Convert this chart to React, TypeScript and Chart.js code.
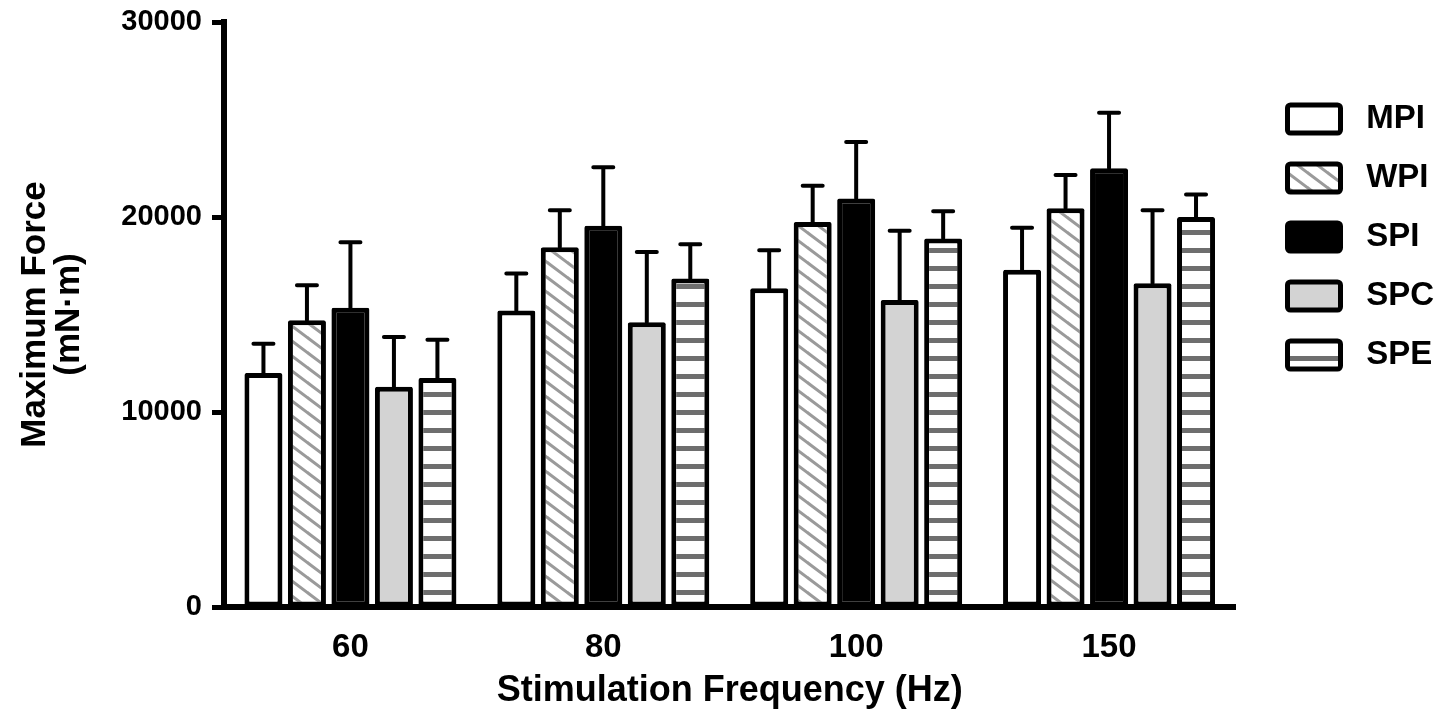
import React, { useEffect, useRef } from "react";
import { Chart, registerables } from "chart.js";

Chart.register(...registerables);

const categories = ["60", "80", "100", "150"];
const seriesNames = ["MPI", "WPI", "SPI", "SPC", "SPE"];

const mpiValues = [12000, 15200, 16350, 17300];
const wpiValues = [14700, 18450, 19750, 20450];
const spiValues = [15350, 19550, 20950, 22500];
const spcValues = [11300, 14600, 15750, 16600];
const speValues = [11750, 16850, 18900, 20000];

const mpiErrors = [1500, 1900, 1950, 2150];
const wpiErrors = [1800, 1900, 1850, 1700];
const spiErrors = [3350, 3000, 2900, 2850];
const spcErrors = [2550, 3600, 3550, 3750];
const speErrors = [1950, 1750, 1400, 1150];

const yTicks = [0, 10000, 20000, 30000];

const allValues = [mpiValues, wpiValues, spiValues, spcValues, speValues];
const allErrors = [mpiErrors, wpiErrors, spiErrors, spcErrors, speErrors];

const FONT = "'Liberation Sans', Arial, Helvetica, sans-serif";

function diagPattern(ctx: CanvasRenderingContext2D) {
  const w = 20, h = 15;
  const c = document.createElement("canvas");
  c.width = w;
  c.height = h;
  const g = c.getContext("2d")!;
  g.fillStyle = "#ffffff";
  g.fillRect(0, 0, w, h);
  g.strokeStyle = "#9a9a9a";
  g.lineWidth = 3;
  g.beginPath();
  for (let k = -1; k <= 1; k++) {
    g.moveTo(k * w - w * 0.2, -h * 0.2);
    g.lineTo(k * w + w * 1.2, h * 1.2);
  }
  g.stroke();
  return ctx.createPattern(c, "repeat")!;
}

function stripePattern(ctx: CanvasRenderingContext2D) {
  const h = 18;
  const c = document.createElement("canvas");
  c.width = 4;
  c.height = h;
  const g = c.getContext("2d")!;
  g.fillStyle = "#ffffff";
  g.fillRect(0, 0, 4, h);
  g.fillStyle = "#6e6e6e";
  g.fillRect(0, 6, 4, 5);
  return ctx.createPattern(c, "repeat")!;
}

const errorBarPlugin = {
  id: "errorBars",
  afterDatasetsDraw(chart: any) {
    const ctx = chart.ctx;
    const yScale = chart.scales.y;
    chart.data.datasets.forEach((ds: any, di: number) => {
      const meta = chart.getDatasetMeta(di);
      meta.data.forEach((bar: any, i: number) => {
        const v = ds.data[i];
        const e = allErrors[di][i];
        const top = yScale.getPixelForValue(v + e);
        ctx.save();
        ctx.strokeStyle = "#000";
        ctx.lineWidth = 4;
        ctx.lineCap = "round";
        ctx.beginPath();
        ctx.moveTo(bar.x, bar.y);
        ctx.lineTo(bar.x, top);
        ctx.moveTo(bar.x - 10, top);
        ctx.lineTo(bar.x + 10, top);
        ctx.stroke();
        ctx.restore();
      });
    });
  },
};

export default function App() {
  const ref = useRef<HTMLCanvasElement | null>(null);

  useEffect(() => {
    const canvas = ref.current!;
    const ctx = canvas.getContext("2d")!;
    const fills = ["#ffffff", diagPattern(ctx), "#000000", "#d3d3d3", stripePattern(ctx)];

    const datasets = seriesNames.map((name, i) => ({
      label: name,
      data: allValues[i],
      backgroundColor: fills[i],
      borderColor: "#000000",
      borderWidth: 5,
      borderSkipped: false,
      borderRadius: 2,
      barPercentage: 0.874,
      categoryPercentage: 0.86,
    }));

    const chart = new Chart(ctx, {
      type: "bar",
      data: { labels: categories, datasets: datasets as any },
      plugins: [errorBarPlugin],
      options: {
        animation: false,
        responsive: false,
        layout: { padding: { top: 0, right: 1, bottom: 0, left: 0 } },
        plugins: {
          tooltip: { enabled: false },
          legend: {
            position: "right",
            align: "start",
            title: {
              display: true,
              text: " ",
              font: { size: 10, lineHeight: 1 },
              padding: { top: 58.5, bottom: 0 },
            },
            labels: {
              boxWidth: 53,
              boxHeight: 28,
              padding: 26,
              color: "#000",
              useBorderRadius: true,
              borderRadius: 3,
              font: { family: FONT, size: 33, weight: "bold", lineHeight: 1 },
              generateLabels: (c: any) =>
                (Chart.defaults.plugins.legend.labels as any)
                  .generateLabels(c)
                  .map((l: any) => ({ ...l, text: " " + l.text })),
            },
          },
        },
        scales: {
          x: {
            type: "category",
            grid: { display: false, drawTicks: false, tickLength: 0 },
            border: { display: true, color: "#000", width: 6 },
            ticks: {
              color: "#000",
              padding: 24,
              font: { family: FONT, size: 33, weight: "bold", lineHeight: 1 },
            },
            title: {
              display: true,
              text: "Stimulation Frequency (Hz)",
              color: "#000",
              padding: { top: 0, bottom: 0 },
              font: { family: FONT, size: 36, weight: "bold", lineHeight: 1 },
            },
            afterFit: (s: any) => {
              s.height = 102;
            },
          },
          y: {
            type: "linear",
            min: 0,
            max: 30000,
            afterBuildTicks: (s: any) => {
              s.ticks = yTicks.map((v) => ({ value: v }));
            },
            grid: {
              display: true,
              drawOnChartArea: false,
              drawTicks: true,
              tickLength: 12,
              tickWidth: 5,
              tickColor: "#000",
            },
            border: { display: true, color: "#000", width: 6 },
            ticks: {
              color: "#000",
              padding: 10,
              font: { family: FONT, size: 29, weight: "bold", lineHeight: 1 },
              callback: (v: any) => String(v),
            },
            title: {
              display: true,
              text: ["Maximum Force", "(mN·m)"],
              color: "#000",
              padding: { top: 10, bottom: 0 },
              font: { family: FONT, size: 35, weight: "bold", lineHeight: 0.97 },
            },
            afterFit: (s: any) => {
              s.width = 216;
              s.paddingTop = 14;
            },
          },
          y2: {
            type: "linear",
            position: "right",
            display: true,
            grid: { display: false },
            border: { display: false },
            ticks: { display: false },
            afterFit: (s: any) => {
              s.width = 26;
              s.paddingTop = 0;
            },
          },
        },
      } as any,
    });
    return () => chart.destroy();
  }, []);

  return (
    <div style={{ width: 1437, height: 701 }}>
      <canvas ref={ref} width={1437} height={701} style={{ display: "block" }} />
    </div>
  );
}
